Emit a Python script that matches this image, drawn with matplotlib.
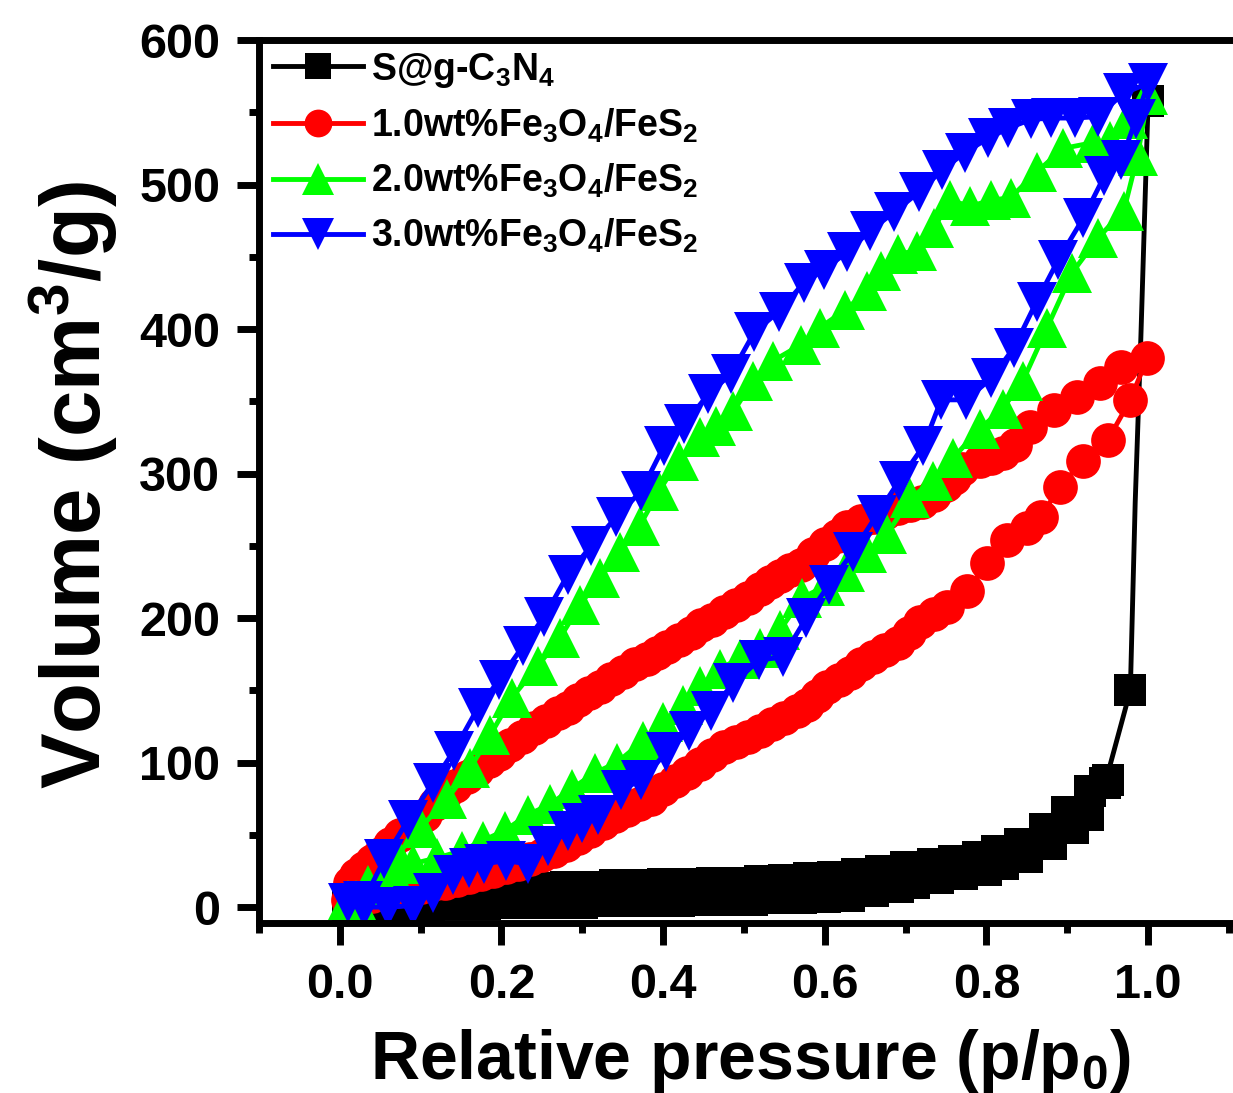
import matplotlib
matplotlib.use("Agg")
import matplotlib.pyplot as plt
from matplotlib.ticker import MultipleLocator

plt.rcParams['font.family'] = ['Liberation Sans', 'DejaVu Sans']
plt.rcParams['font.weight'] = 'bold'
plt.rcParams['mathtext.fontset'] = 'custom'
plt.rcParams['mathtext.rm'] = 'Liberation Sans:bold'
plt.rcParams['mathtext.it'] = 'Liberation Sans:bold'
plt.rcParams['mathtext.bf'] = 'Liberation Sans:bold'
plt.rcParams['mathtext.sf'] = 'Liberation Sans:bold'
plt.rcParams['mathtext.default'] = 'rm'

# ---------------- data ----------------
labels = [r'S@g-C$_3$N$_4$', r'1.0wt%Fe$_3$O$_4$/FeS$_2$',
          r'2.0wt%Fe$_3$O$_4$/FeS$_2$', r'3.0wt%Fe$_3$O$_4$/FeS$_2$']

# S@g-C3N4 adsorption (last points: steep rise near p/p0 = 1)
black_ads_x = [0.01, 0.03, 0.05, 0.07, 0.09, 0.11, 0.13, 0.15, 0.18, 0.21, 0.24, 0.27,
               0.30, 0.33, 0.36, 0.39, 0.42, 0.45, 0.48, 0.51, 0.54, 0.57, 0.60, 0.63,
               0.66, 0.69, 0.71, 0.74, 0.77, 0.80, 0.82, 0.85, 0.88, 0.907, 0.925, 0.947,
               0.978, 0.984, 0.991, 1.0]
black_ads_y = [0, 0, 0, 1, 1, 1, 2, 2, 2, 3, 3, 3,
               3, 4, 4, 4, 4, 5, 5, 5, 6, 6, 7, 8,
               11, 14, 17, 20, 23, 26, 30, 35, 44, 55, 64, 86,
               150, 280, 394, 558]
black_line_only = [37, 38]          # indices drawn without a symbol
black_des_x = [0.95, 0.928, 0.90, 0.873, 0.842, 0.813, 0.789, 0.76, 0.734, 0.70, 0.67,
               0.64, 0.61, 0.58, 0.55, 0.52, 0.49, 0.46, 0.43, 0.40, 0.37, 0.34, 0.31,
               0.28, 0.25, 0.22, 0.19, 0.16, 0.13]
black_des_y = [88, 80, 66, 54, 44, 39, 35, 32, 30, 28, 25,
               23, 21, 20, 19, 18, 17, 17, 16, 16, 15, 15, 14,
               14, 13, 13, 12, 11, 8]

red_ads_x = [0.01, 0.025, 0.04, 0.055, 0.07, 0.085, 0.10, 0.115, 0.13, 0.145, 0.16, 0.175,
             0.19, 0.205, 0.22, 0.235, 0.25, 0.265, 0.28, 0.295, 0.31, 0.325, 0.34, 0.355,
             0.37, 0.385, 0.40, 0.415, 0.43, 0.445, 0.46, 0.475, 0.49, 0.505, 0.52, 0.535,
             0.55, 0.565, 0.578, 0.59, 0.603, 0.617, 0.631, 0.645, 0.66, 0.675, 0.69, 0.704,
             0.718, 0.735, 0.751, 0.776, 0.801, 0.826, 0.85, 0.867, 0.891, 0.92, 0.95, 0.978,
             0.999]
red_ads_y = [5, 6, 8, 9, 11, 12, 14, 16, 17, 19, 21, 23,
             25, 28, 30, 33, 36, 39, 43, 48, 53, 58, 63, 67,
             71, 75, 82, 87, 93, 99, 105, 111, 114, 118, 122, 127,
             131, 136, 140, 146, 152, 157, 162, 168, 173, 178, 183, 190,
             197, 203, 208, 219, 238, 254, 262, 270, 291, 309, 323, 351,
             380]
red_des_x = [0.966, 0.941, 0.912, 0.883, 0.854, 0.835, 0.821, 0.805, 0.792, 0.77, 0.76,
             0.75, 0.735, 0.72, 0.705, 0.69, 0.675, 0.66, 0.645, 0.628, 0.615, 0.60, 0.585,
             0.57, 0.557, 0.545, 0.532, 0.52, 0.505, 0.49, 0.475, 0.46, 0.447, 0.435, 0.42,
             0.405, 0.392, 0.38, 0.365, 0.35, 0.336, 0.322, 0.308, 0.295, 0.282, 0.27, 0.255,
             0.24, 0.225, 0.21, 0.197, 0.185, 0.17, 0.157, 0.143, 0.13, 0.118, 0.105, 0.09,
             0.075, 0.062, 0.05, 0.04, 0.03, 0.02, 0.013]
red_des_y = [374, 363, 353, 344, 332, 320, 314, 311, 309, 303, 297,
             292, 285, 280, 278, 276, 273, 270, 267, 263, 257, 251, 244,
             237, 233, 229, 225, 220, 214, 209, 204, 199, 195, 190, 185,
             180, 176, 172, 168, 163, 158, 152, 148, 143, 138, 134, 129,
             124, 118, 112, 106, 101, 95, 90, 84, 78, 71, 64, 57,
             50, 44, 37, 32, 27, 22, 17]

green_ads_x = [0.01, 0.035, 0.062, 0.09, 0.12, 0.151, 0.177, 0.204, 0.233, 0.26, 0.287,
               0.316, 0.343, 0.375, 0.40, 0.425, 0.446, 0.47, 0.495, 0.52, 0.545, 0.572,
               0.60, 0.625, 0.652, 0.677, 0.706, 0.734, 0.759, 0.792, 0.82, 0.845, 0.875,
               0.906, 0.938, 0.97, 0.987, 1.0]
green_ads_y = [5, 15, 27, 30, 34, 39, 46, 53, 64, 71, 82,
               93, 100, 115, 128, 140, 153, 165, 172, 179, 192, 214,
               222, 232, 245, 258, 283, 295, 311, 331, 345, 364, 401,
               439, 463, 482, 520, 562]
green_des_x = [0.975, 0.953, 0.932, 0.895, 0.863, 0.83, 0.805, 0.78, 0.755, 0.735, 0.714,
               0.69, 0.67, 0.652, 0.625, 0.594, 0.57, 0.536, 0.511, 0.487, 0.466, 0.446,
               0.419, 0.395, 0.371, 0.347, 0.322, 0.297, 0.272, 0.245, 0.213, 0.186, 0.161,
               0.133, 0.10, 0.071, 0.05, 0.02]
green_des_y = [545, 530, 529, 525, 509, 491, 489, 485, 489, 470, 454,
               452, 440, 426, 413, 401, 389, 378, 364, 343, 333, 325,
               309, 288, 264, 246, 228, 209, 186, 167, 145, 119, 96,
               75, 55, 36, 15, 5]

blue_ads_x = [0.01, 0.03, 0.06, 0.09, 0.115, 0.14, 0.16, 0.178, 0.205, 0.233, 0.258, 0.282,
              0.30, 0.32, 0.348, 0.373, 0.404, 0.432, 0.459, 0.487, 0.519, 0.548, 0.577,
              0.605, 0.635, 0.664, 0.692, 0.722, 0.744, 0.775, 0.806, 0.834, 0.862, 0.889,
              0.92, 0.946, 0.967, 0.985, 1.0]
blue_ads_y = [3, 0, 0, 1, 10, 22, 27, 30, 32, 30, 42, 53,
              58, 64, 81, 88, 107, 122, 136, 155, 171, 173, 200,
              223, 246, 271, 295, 319, 351, 351, 366, 387, 419, 448,
              477, 506, 517, 545, 570]
blue_des_x = [0.969, 0.938, 0.91, 0.88, 0.855, 0.827, 0.802, 0.773, 0.745, 0.717, 0.686,
              0.656, 0.627, 0.599, 0.574, 0.543, 0.513, 0.484, 0.456, 0.426, 0.401, 0.373,
              0.342, 0.311, 0.282, 0.253, 0.227, 0.197, 0.171, 0.141, 0.115, 0.084, 0.055,
              0.029]
blue_des_y = [563, 547, 546, 546, 545, 539, 532, 522, 510, 495, 481,
              468, 453, 441, 432, 412, 398, 369, 355, 334, 319, 288,
              270, 250, 230, 201, 181, 157, 138, 108, 86, 60, 33,
              4]

xticks = [0.0, 0.2, 0.4, 0.6, 0.8, 1.0]
yticks = [0, 100, 200, 300, 400, 500, 600]

# ---------------- figure ----------------
W, H = 1233, 1093
fig = plt.figure(figsize=(W / 100, H / 100), dpi=100)
ax = fig.add_axes([259 / W, (H - 923) / H, (W - 259) / W, (923 - 40) / H])

lw = 3.5
common = dict(clip_on=False, linewidth=lw)

mark_idx = [i for i in range(len(black_ads_x)) if i not in black_line_only]
ax.plot(black_ads_x, black_ads_y, color='black', marker='s', markersize=23,
        markevery=mark_idx, mew=0, label=labels[0], zorder=2, **common)
ax.plot(black_des_x, black_des_y, color='black', marker='s', markersize=23,
        mew=0, zorder=2, **common)

ax.plot(red_ads_x + red_des_x, red_ads_y + red_des_y, color='#FF0000', marker='o',
        markersize=25, mew=0, label=labels[1], zorder=3, **common)
ax.plot(green_ads_x + green_des_x, green_ads_y + green_des_y, color='#00FF00', marker='^',
        markersize=29, mew=0, label=labels[2], zorder=4, **common)
ax.plot(blue_ads_x + blue_des_x, blue_ads_y + blue_des_y, color='#0000FF', marker='v',
        markersize=29, mew=0, label=labels[3], zorder=5, **common)

ax.set_xlim(-0.1, 1.105)
ax.set_ylim(-11, 600)
ax.set_xticks(xticks)
ax.set_xticklabels(['%.1f' % v for v in xticks])
ax.set_yticks(yticks)
ax.xaxis.set_minor_locator(MultipleLocator(0.1))
ax.yaxis.set_minor_locator(MultipleLocator(50))

for s in ['left', 'bottom', 'top']:
    ax.spines[s].set_linewidth(5)
    ax.spines[s].set_zorder(10)
ax.spines['right'].set_visible(False)

ax.tick_params(which='major', direction='out', length=16, width=5, labelsize=35)
ax.tick_params(which='minor', direction='out', length=7.5, width=5)
ax.tick_params(axis='x', which='major', pad=13)
ax.tick_params(axis='y', which='major', pad=12)
ax.tick_params(top=False, right=False, which='both')
for lab in ax.get_xticklabels() + ax.get_yticklabels():
    lab.set_fontweight('bold')

ax.set_xlabel(r'Relative pressure (p/p$_0$)', fontsize=49, fontweight='bold')
ax.set_ylabel(r'Volume (cm$^3$/g)', fontsize=60, fontweight='bold')
ax.xaxis.set_label_coords(0.504, -0.118)
ax.xaxis.label.set_va('top')
ax.yaxis.set_label_coords(-0.143, 0.496)

leg = ax.legend(loc='upper left', bbox_to_anchor=(0.0144, 0.988), frameon=False,
                fontsize=27, handlelength=2.4, handletextpad=0.2, labelspacing=0.45,
                borderpad=0, borderaxespad=0, markerscale=0.8)

fig.savefig('out.png', dpi=100)
